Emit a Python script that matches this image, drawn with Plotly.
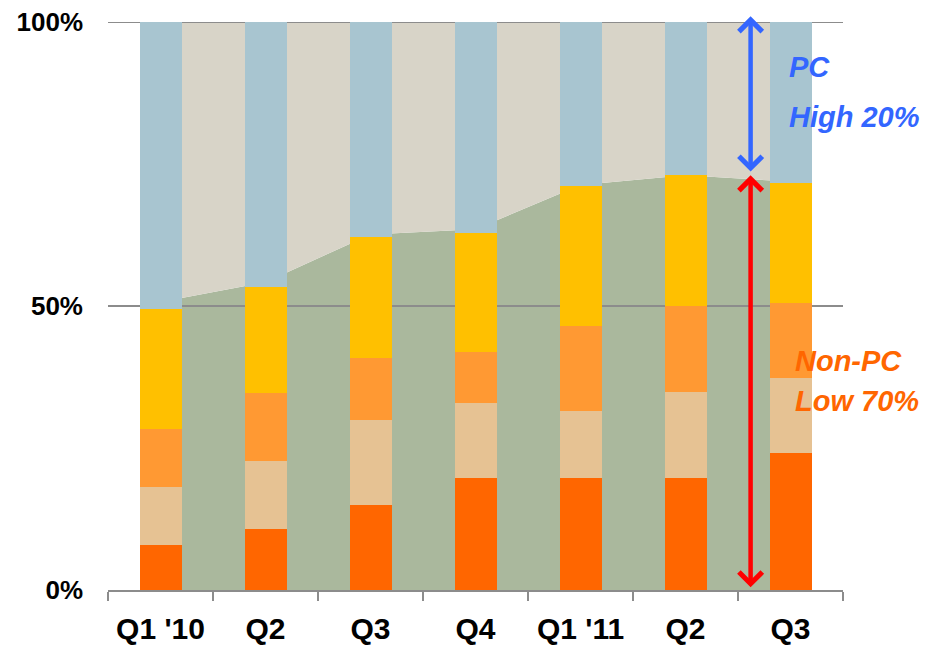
import plotly.graph_objects as go

# ---- data ----
quarters = ["Q1 '10", "Q2", "Q3", "Q4", "Q1 '11", "Q2", "Q3"]
seg_dark_orange = [8.0, 10.8, 14.9, 19.8, 19.7, 19.8, 24.1]
seg_tan = [10.1, 11.9, 15.0, 13.1, 11.9, 15.1, 13.2]
seg_orange = [10.2, 11.9, 11.0, 9.0, 14.9, 15.1, 13.2]
seg_yellow = [21.1, 18.8, 21.2, 21.0, 24.7, 23.0, 21.2]
seg_blue = [50.6, 46.6, 37.9, 37.1, 28.8, 27.0, 28.3]
nonpc_area = [50.7, 54.2, 62.6, 63.5, 71.3, 73.0, 71.9]
y_ticks = [0, 50, 100]
y_ticktext = ["0%", "50%", "100%"]
arrow_pos = 5.62           # between Q2 and Q3 '11
pc_arrow = (101.0, 73.4)
nonpc_arrow = (73.0, 0.2)

# ---- style ----
FONT = "Liberation Sans, Arial, sans-serif"
GRID = "#8c8c8c"
C_DARK = "#FF6600"
C_TAN = "#E6C293"
C_ORANGE = "#FF9933"
C_YELLOW = "#FFC000"
C_BLUE = "#A8C5D0"
C_GREEN = "#AAB89D"
C_BEIGE = "#D8D4C8"

idx = list(range(len(quarters)))
xr = [-0.5, len(quarters) - 0.5]

fig = go.Figure()

# background areas (base subplot)
fig.add_trace(go.Scatter(x=idx, y=nonpc_area, mode="lines", line=dict(width=0),
                         fill="tozeroy", fillcolor=C_GREEN, hoverinfo="skip", showlegend=False))
fig.add_trace(go.Scatter(x=idx, y=[100] * len(idx), mode="lines", line=dict(width=0),
                         fill="tonexty", fillcolor=C_BEIGE, hoverinfo="skip", showlegend=False))
# grid lines re-drawn above areas (below bars)
for gv in y_ticks[1:]:
    fig.add_trace(go.Scatter(x=xr, y=[gv, gv], mode="lines", line=dict(color=GRID, width=2),
                             hoverinfo="skip", showlegend=False))

# stacked bars (overlay subplot, drawn above)
for vals, col in [(seg_dark_orange, C_DARK), (seg_tan, C_TAN), (seg_orange, C_ORANGE),
                  (seg_yellow, C_YELLOW), (seg_blue, C_BLUE)]:
    fig.add_trace(go.Bar(x=idx, y=vals, marker=dict(color=col, line=dict(width=0)),
                         width=0.4, xaxis="x2", yaxis="y", showlegend=False))

fig.update_layout(
    barmode="stack",
    width=939, height=645,
    margin=dict(l=100, r=104, t=14, b=63),
    paper_bgcolor="white", plot_bgcolor="white",
    font=dict(family=FONT, color="black"),
    xaxis=dict(range=xr, tickmode="array", tickvals=idx, ticktext=quarters,
               ticks="", showgrid=False, zeroline=False, showline=True,
               linecolor=GRID, linewidth=2, ticklabelstandoff=11,
               tickfont=dict(size=30, weight="bold", color="black"),
               minor=dict(tickmode="array", tickvals=[i - 0.5 for i in range(len(quarters) + 1)],
                          ticks="outside", ticklen=9, tickwidth=2, tickcolor=GRID, showgrid=False),
               automargin=False),
    xaxis2=dict(range=xr, overlaying="x", visible=False),
    yaxis=dict(range=[0, 100], tickmode="array", tickvals=y_ticks, ticktext=y_ticktext,
               showgrid=True, gridcolor=GRID, gridwidth=2, zeroline=False, showline=False,
               ticks="", ticklabelstandoff=24, ticklabeloverflow="allow",
               tickfont=dict(size=26, weight="bold", color="black"), automargin=False),
)

# arrows
for (tip1, tip2), col in [(pc_arrow, "#3366FF"), (nonpc_arrow, "#FF0000")]:
    fig.add_annotation(x=arrow_pos, y=tip1, ax=arrow_pos, ay=tip2,
                       xref="x", yref="y", axref="x", ayref="y", showarrow=True,
                       arrowside="end+start", arrowhead=4, startarrowhead=4,
                       arrowsize=1.0, startarrowsize=1.0, arrowwidth=4.5, arrowcolor=col,
                       standoff=0, startstandoff=0, text="")

# labels
lab_font_b = dict(size=29, color="#3366FF", weight="bold", style="italic", family=FONT)
lab_font_o = dict(size=29, color="#FF6600", weight="bold", style="italic", family=FONT)
for txt, yv, f, xv in [("PC", 92.1, lab_font_b, 5.965), ("High 20%", 83.3, lab_font_b, 5.965),
                       ("Non-PC", 40.3, lab_font_o, 6.02), ("Low 70%", 33.2, lab_font_o, 6.02)]:
    fig.add_annotation(x=xv, y=yv, xref="x", yref="y", text=txt, showarrow=False,
                       xanchor="left", yanchor="middle", font=f)

fig.write_html("out.html")
